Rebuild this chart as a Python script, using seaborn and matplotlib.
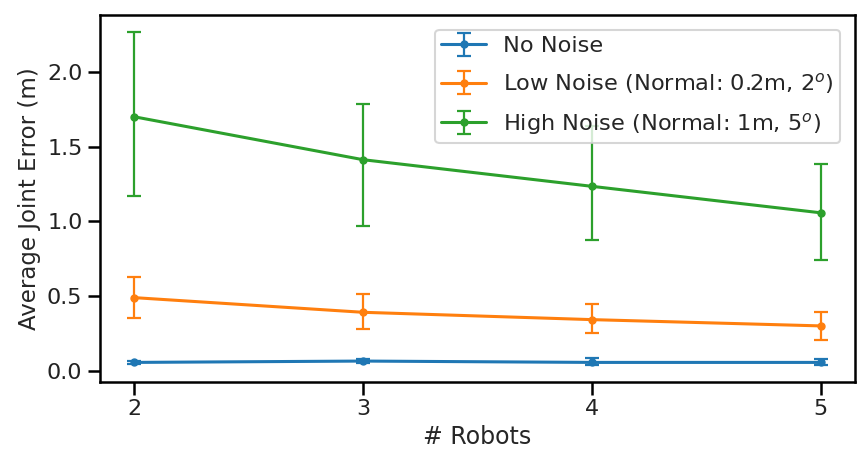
import numpy as np
import pandas as pd
import matplotlib
matplotlib.use("Agg")
import matplotlib.pyplot as plt
import seaborn as sns

# Data
robots = [2, 3, 4, 5]
labels = ['No Noise', 'Low Noise (Normal: 0.2m, 2$^o$)', 'High Noise (Normal: 1m, 5$^o$)']

no_noise = [0.058, 0.067, 0.058, 0.058]
no_noise_lo = [0.012, 0.012, 0.020, 0.018]
no_noise_hi = [0.012, 0.012, 0.031, 0.020]

low_noise = [0.491, 0.393, 0.344, 0.302]
low_noise_lo = [0.138, 0.113, 0.091, 0.093]
low_noise_hi = [0.140, 0.120, 0.105, 0.093]

high_noise = [1.700, 1.413, 1.235, 1.058]
high_noise_lo = [0.527, 0.440, 0.360, 0.315]
high_noise_hi = [0.567, 0.374, 0.400, 0.329]

means = [no_noise, low_noise, high_noise]
lows = [no_noise_lo, low_noise_lo, high_noise_lo]
highs = [no_noise_hi, low_noise_hi, high_noise_hi]

sns.set_style('ticks')
sns.set_context('talk')
colors = sns.color_palette('tab10', 3)

fig, ax = plt.subplots(figsize=(8.68, 4.62), dpi=100)
fig.subplots_adjust(left=0.115, right=0.985, top=0.967, bottom=0.173)

for i in range(3):
    df = pd.DataFrame({'Robots': robots, 'Error': means[i]})
    ax.errorbar(df['Robots'], df['Error'], yerr=[lows[i], highs[i]],
                fmt='-o', color=colors[i], markersize=5, linewidth=2.2,
                elinewidth=1.6, capsize=5, capthick=1.6, label=labels[i])

ax.set_xticks(robots)
ax.set_yticks([0.0, 0.5, 1.0, 1.5, 2.0])
ax.set_xlabel('# Robots', fontsize=17)
ax.set_ylabel('Average Joint Error (m)', fontsize=16.5)
ax.tick_params(labelsize=16, length=9, width=1.8, colors='black')
ax.tick_params(labelcolor='#222222')
for s in ax.spines.values():
    s.set_linewidth(1.8)
    s.set_color('black')

ax.legend(loc='upper right', fontsize=16.2, handlelength=2.0, borderaxespad=0.65,
          labelspacing=0.66, borderpad=0.28, handletextpad=0.75)

plt.savefig('out.png', dpi=100)
